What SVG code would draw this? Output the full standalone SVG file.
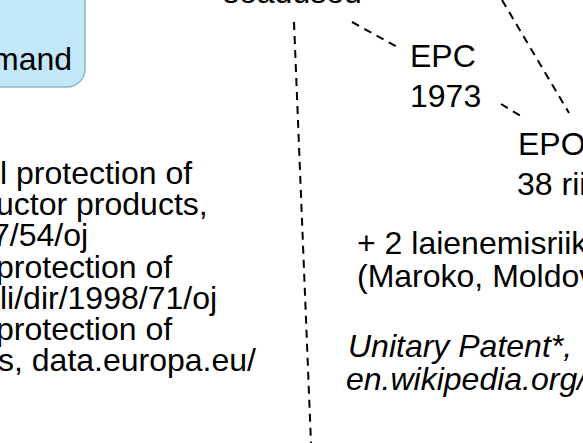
<svg xmlns="http://www.w3.org/2000/svg" width="583" height="443" viewBox="0 0 583 443">
  <style>
    text { font-family: "Liberation Sans", Arial, Helvetica, sans-serif; font-size: 32px; fill: #000; }
    .it { font-style: italic; }
    .dash { fill: none; stroke: #000; stroke-width: 2; stroke-dasharray: 8 6; }
    .box { fill: #c2e7f8; stroke: #8db7cc; stroke-width: 1.5; }
  </style>
  <rect width="583" height="443" fill="#fff"/>
  <g id="connectors">
    <path class="dash" d="M294,22 L311,443"/>
    <path class="dash" d="M352,22 L401,49"/>
    <path class="dash" d="M501,104 L524,118"/>
    <path class="dash" d="M502,0 L569,113"/>
  </g>
  <g id="node-seadused">
    <text x="223" y="3">seadused</text>
  </g>
  <g id="node-command">
    <rect class="box" x="-40" y="-40" width="125" height="127" rx="18" ry="18"/>
    <text x="-8" y="70">mand</text>
  </g>
  <g id="node-epc">
    <text x="410" y="67">EPC</text>
    <text x="410" y="107">1973</text>
  </g>
  <g id="node-epo">
    <text x="518" y="155">EPO</text>
    <text x="517" y="195">38 rii</text>
  </g>
  <g id="node-eu-laws">
    <text x="0" y="184">l protection of</text>
    <text x="-4" y="215">uctor products,</text>
    <text x="-8" y="246">7/54/oj</text>
    <text x="-4" y="278">protection of</text>
    <text x="0" y="309">li/dir/1998/71/oj</text>
    <text x="-4" y="340">protection of</text>
    <text x="-2" y="371">s, data.europa.eu/</text>
  </g>
  <g id="node-extension">
    <text x="357" y="254">+ 2 laienemisriik</text>
    <text x="357" y="287">(Maroko, Moldov</text>
  </g>
  <g id="node-unitary">
    <text class="it" x="348" y="357">Unitary Patent*,</text>
    <text class="it" x="346" y="390">en.wikipedia.org/</text>
  </g>
</svg>
